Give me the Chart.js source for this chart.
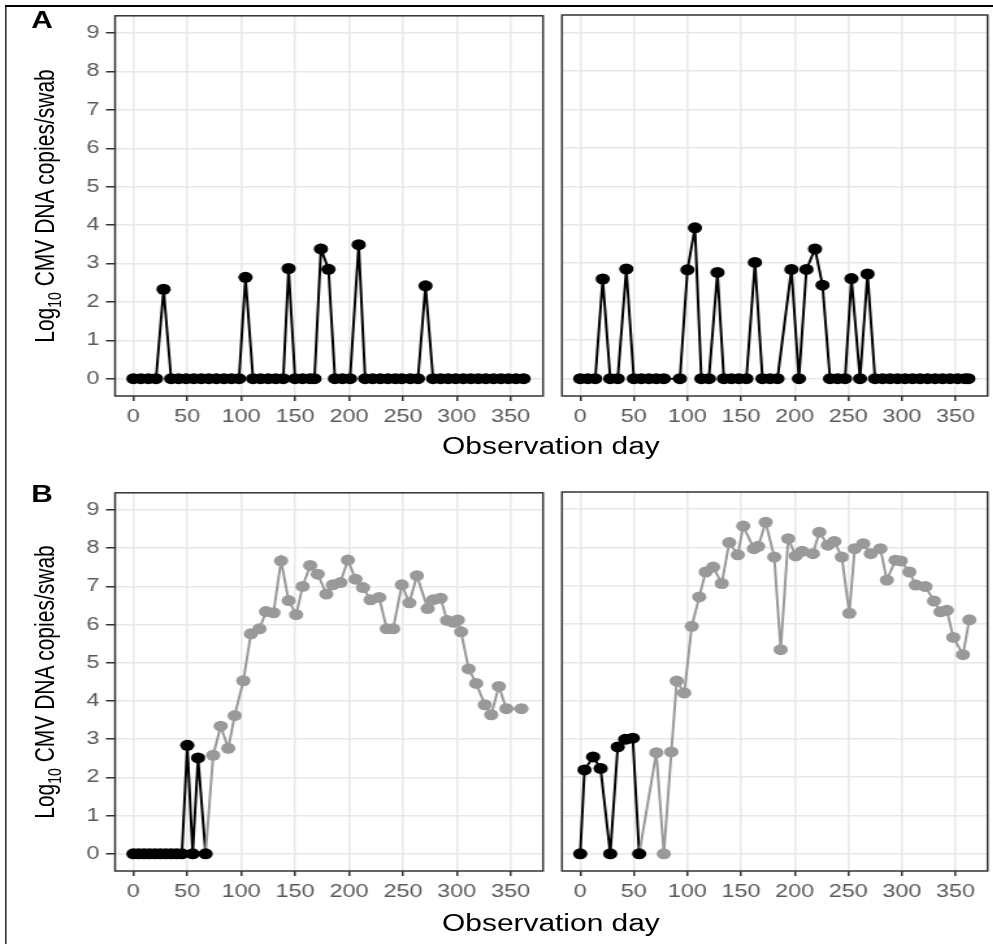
<!DOCTYPE html>
<html>
<head>
<meta charset="utf-8">
<script src="https://cdn.jsdelivr.net/npm/chart.js@4.4.1/dist/chart.umd.min.js"></script>
<style>
  html, body { margin: 0; padding: 0; background: #fff; overflow: hidden; }
  /* the source figure is stretched sideways, so the whole page is drawn narrow and widened */
  #page { position: absolute; left: 0; top: 0; width: 764px; height: 944px;
          transform: scaleX(1.3); transform-origin: 0 0;
          font-family: "Liberation Sans", Arial, sans-serif; color: #000; }
  canvas { position: absolute; }
  .frame { position: absolute; left: 3.8px; top: 5px; width: 900px; height: 1000px;
           border-top: 2px solid #000; border-left: 1.6px solid #000; }
  .tag { position: absolute; font-weight: bold; font-size: 23px; line-height: 23px; }
  .xtitle { position: absolute; width: 300px; text-align: center; font-size: 23px; line-height: 23px; }
  .ytitle { position: absolute; width: 420px; text-align: center; font-size: 21px; line-height: 21px;
            transform: translate(-50%, -50%) rotate(-90deg); white-space: nowrap; }
  .ytitle sub { font-size: 14px; line-height: 0; }
</style>
</head>
<body>
<div id="page">
  <div class="frame"></div>
  <div class="tag" style="left:24px; top:9px;">A</div>
  <div class="tag" style="left:24px; top:483px;">B</div>
  <div class="ytitle" style="left:34px; top:205.5px;">Log<sub>10</sub> CMV DNA copies/swab</div>
  <div class="ytitle" style="left:34px; top:681.5px;">Log<sub>10</sub> CMV DNA copies/swab</div>
  <div class="xtitle" style="left:273.8px; top:435px;">Observation day</div>
  <div class="xtitle" style="left:273.8px; top:912px;">Observation day</div>
  <canvas id="aLeft" width="422" height="436" style="left:0; top:0;"></canvas>
  <canvas id="aRight" width="336" height="436" style="left:428px; top:0;"></canvas>
  <canvas id="bLeft" width="422" height="434" style="left:0; top:477px;"></canvas>
  <canvas id="bRight" width="336" height="434" style="left:428px; top:477px;"></canvas>
</div>
<script>
const BLACK = '#000000';
const GRAY = '#999999';

const xTicks = [0, 50, 100, 150, 200, 250, 300, 350];
const yTicks = [0, 1, 2, 3, 4, 5, 6, 7, 8, 9];

// panel A, left
const aLeftDays = [0, 7, 14, 21, 28, 35, 42, 49, 56, 63, 70, 77, 84, 91, 98, 104, 111, 118, 125, 132,
    139, 144, 150, 157, 164, 168, 174, 181, 187, 194, 201, 209, 215, 222, 229, 236, 243, 249, 257, 264,
    271, 278, 285, 292, 299, 306, 313, 320, 327, 334, 341, 348, 355, 362];
const aLeftVals = [0, 0, 0, 0, 2.33, 0, 0, 0, 0, 0, 0, 0, 0, 0, 0, 2.64, 0, 0, 0, 0,
    0, 2.87, 0, 0, 0, 0, 3.38, 2.85, 0, 0, 0, 3.49, 0, 0, 0, 0, 0, 0, 0, 0,
    2.42, 0, 0, 0, 0, 0, 0, 0, 0, 0, 0, 0, 0, 0];

// panel A, right
const aRightDays = [0, 7, 14, 21, 28, 35, 43, 50, 57, 64, 71, 78, 93, 100, 107, 113, 120, 128, 134, 141,
    148, 155, 163, 170, 177, 184, 197, 204, 211, 219, 226, 233, 240, 247, 253, 261, 268, 275, 282, 289,
    296, 303, 310, 317, 324, 331, 338, 345, 352, 359, 362];
const aRightVals = [0, 0, 0, 2.59, 0, 0, 2.85, 0, 0, 0, 0, 0, 0, 2.83, 3.92, 0, 0, 2.76, 0, 0,
    0, 0, 3.02, 0, 0, 0, 2.84, 0, 2.84, 3.37, 2.43, 0, 0, 0, 2.6, 0, 2.72, 0, 0, 0,
    0, 0, 0, 0, 0, 0, 0, 0, 0, 0, 0];

// panel B, left: black part then grey part
const bLeftBlackDays = [0, 5, 10, 15, 20, 25, 30, 35, 40, 45, 50, 55, 60, 67];
const bLeftBlackVals = [0, 0, 0, 0, 0, 0, 0, 0, 0, 0, 2.84, 0, 2.51, 0];
const bLeftGrayDays = [74, 81, 88, 94, 102, 109, 117, 123, 130, 137, 144, 151, 157, 164, 171, 179, 185, 192, 199, 206,
    213, 220, 228, 235, 241, 249, 256, 263, 273, 278, 285, 291, 297, 301, 304, 311, 318, 326, 332, 339,
    346, 360];
const bLeftGrayVals = [2.58, 3.34, 2.76, 3.62, 4.53, 5.76, 5.89, 6.34, 6.31, 7.67, 6.63, 6.26, 7.0, 7.55, 7.32, 6.8, 7.04, 7.1, 7.69, 7.19,
    6.97, 6.65, 6.71, 5.89, 5.89, 7.04, 6.57, 7.28, 6.42, 6.65, 6.69, 6.11, 6.06, 6.12, 5.81, 4.84, 4.46, 3.9, 3.64, 4.38,
    3.8, 3.8];

// panel B, right
const bRightBlackDays = [0, 4, 12, 19, 28, 35, 42, 49, 55];
const bRightBlackVals = [0, 2.19, 2.53, 2.23, 0, 2.79, 2.99, 3.02, 0];
const bRightGrayDays = [71, 78, 85, 90, 97, 104, 111, 117, 124, 132, 139, 147, 152, 162, 166, 173, 181, 187, 194, 201,
    207, 217, 223, 231, 237, 244, 251, 256, 264, 271, 280, 286, 294, 299, 307, 313, 322, 330, 336, 342,
    348, 357, 363];
const bRightGrayVals = [2.64, 0, 2.66, 4.51, 4.2, 5.94, 6.71, 7.36, 7.49, 7.06, 8.13, 7.81, 8.56, 7.97, 8.03, 8.66, 7.75, 5.33, 8.23, 7.78,
    7.9, 7.84, 8.4, 8.06, 8.16, 7.75, 6.28, 7.97, 8.1, 7.84, 7.97, 7.15, 7.67, 7.65, 7.36, 7.02, 6.98, 6.6, 6.32, 6.36,
    5.65, 5.2, 6.11];

Chart.defaults.font.family = '"Liberation Sans", Arial, sans-serif';

const panelBorder = {
    id: 'panelBorder',
    afterDatasetsDraw(chart) {
        const a = chart.chartArea;
        const c = chart.ctx;
        c.save();
        c.strokeStyle = '#333333';
        c.lineWidth = 1.5;
        c.strokeRect(a.left, a.top, a.right - a.left, a.bottom - a.top);
        c.restore();
    }
};

function makePanel(id, blackDays, blackVals, grayDays, grayVals, isLeft) {
    const days = blackDays.concat(grayDays);
    const vals = blackVals.concat(grayVals);
    const nBlack = blackDays.length;
    const points = days.map((d, i) => ({ x: d, y: vals[i] }));
    const colors = days.map((d, i) => i < nBlack ? BLACK : GRAY);

    return new Chart(document.getElementById(id), {
        type: 'line',
        data: {
            datasets: [{
                data: points,
                borderColor: BLACK,
                borderWidth: 2,
                pointRadius: 5.5,
                pointBorderWidth: 0,
                pointBackgroundColor: colors,
                pointHoverRadius: 5.5,
                tension: 0,
                segment: {
                    borderColor: ctx => ctx.p1DataIndex >= nBlack ? GRAY : BLACK
                }
            }]
        },
        options: {
            responsive: false,
            animation: false,
            events: [],
            layout: {
                autoPadding: false,
                padding: { left: isLeft ? 0 : 4.3, right: 4.3, top: 15, bottom: 0 }
            },
            plugins: { legend: { display: false }, tooltip: { enabled: false } },
            scales: {
                x: {
                    type: 'linear',
                    min: -17,
                    max: 380,
                    afterBuildTicks: axis => { axis.ticks = xTicks.map(v => ({ value: v })); },
                    afterFit: axis => { axis.height = 40; },
                    border: { display: false },
                    grid: { color: '#e8e8e8', lineWidth: 1.5, tickLength: 5, tickColor: '#333333', tickWidth: 1.5 },
                    ticks: { color: '#595959', font: { size: 18 }, padding: 5, maxRotation: 0 }
                },
                y: {
                    min: -0.45,
                    max: 9.45,
                    afterBuildTicks: axis => { axis.ticks = yTicks.map(v => ({ value: v })); },
                    afterFit: axis => { axis.width = isLeft ? 88.5 : 0; },
                    border: { display: false },
                    grid: { color: '#e8e8e8', lineWidth: 1.5, drawTicks: isLeft, tickLength: 7, tickColor: '#333333', tickWidth: 1.5 },
                    ticks: { display: isLeft, color: '#595959', font: { size: 18 }, padding: 5 }
                }
            }
        },
        plugins: [panelBorder]
    });
}

makePanel('aLeft', aLeftDays, aLeftVals, [], [], true);
makePanel('aRight', aRightDays, aRightVals, [], [], false);
makePanel('bLeft', bLeftBlackDays, bLeftBlackVals, bLeftGrayDays, bLeftGrayVals, true);
makePanel('bRight', bRightBlackDays, bRightBlackVals, bRightGrayDays, bRightGrayVals, false);
</script>
</body>
</html>
